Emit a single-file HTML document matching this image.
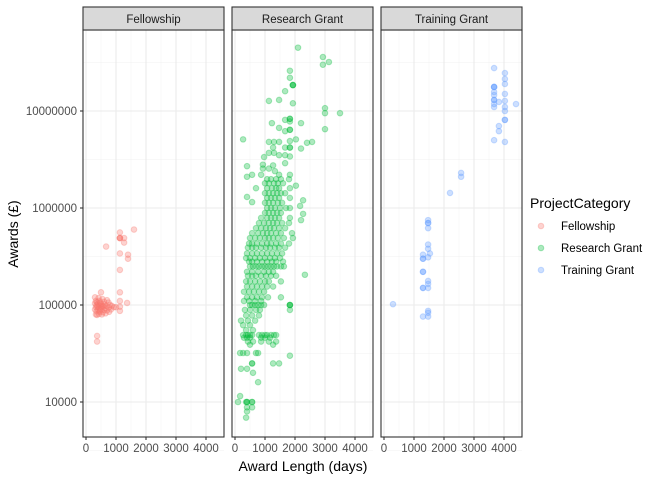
<!DOCTYPE html>
<html><head><meta charset="utf-8"><style>
body{margin:0;background:#fff;font-family:"Liberation Sans",sans-serif}
</style></head><body>
<svg id="chart" width="672" height="480" xmlns="http://www.w3.org/2000/svg" font-family="Liberation Sans, sans-serif"></svg>
<script>
const categories = ["Fellowship","Research Grant","Training Grant"];
const colors = ["#F8766D","#00BA38","#619CFF"];
const xTicks = [0,1000,2000,3000,4000];
const yTicks = [10000,100000,1000000,10000000];
const yTickLabels = ["10000","100000","1000000","10000000"];

const fellowshipPoints = [[1130,5.6e5],[1130,4.9e5],[1130,4.9e5],[1130,4.9e5],[1270,4.9e5],[1270,4.4e5],[1600,6e5],[670,4e5],[1130,3.4e5],[1400,3.3e5],[1400,3e5],[1130,2.3e5],[500,1.35e5],[1130,1.35e5],[1130,1.1e5],[1370,1.05e5],[1130,8.7e4],[370,4.8e4],[370,4.2e4],[370,7.9e4],[770,8.5e4],[930,9.5e4],
[300,1.2e5],[420,1.18e5],[550,1.15e5],[700,1.12e5],[330,1.1e5],[450,1.1e5],[600,1.08e5],[750,1.06e5],[300,1.04e5],[400,1.03e5],[500,1.02e5],[620,1.01e5],[800,1e5],[350,1e5],[450,9.9e4],[550,9.8e4],[680,9.8e4],[330,9.5e4],[430,9.4e4],[520,9.5e4],[640,9.3e4],[760,9.4e4],[300,9e4],[400,9e4],[500,9.1e4],[600,8.9e4],[700,8.8e4],[350,8.6e4],[450,8.5e4],[560,8.4e4],[330,8e4],[430,8.1e4],[530,8e4],[650,8.2e4],[860,9.8e4],[370,1.07e5],[480,1.06e5],[580,9.7e4],[380,9.6e4],[470,8.8e4],[1000,9.5e4],[1130,9.6e4],[830,9e4]];

const researchPoints = [[2100,4.5e7],[2930,3.6e7],[3130,3.2e7],[2930,3.0e7],[1830,2.6e7],[1830,2.2e7],[1930,1.85e7],[1930,1.85e7],[1930,1.85e7],[1670,1.6e7],[1130,1.27e7],[1470,1.3e7],[1930,1.2e7],[3000,1.07e7],[3000,9.5e6],[3500,9.5e6],[1230,7.5e6],[1670,8.1e6],[1830,8.3e6],[1830,8.3e6],[1830,7.8e6],[2200,7.5e6],[1470,6.7e6],[1830,6.4e6],[1830,6.4e6],[1670,6.2e6],[3000,6.5e6],[270,5.1e6],[2030,5.1e6],[1830,4.9e6],[2570,4.8e6],[2400,4.7e6],[1130,4.8e6],[1300,4.8e6],[1470,4.8e6],[1670,4.2e6],[1830,4.2e6],[1830,4.2e6],[2200,4.1e6],[1270,4.2e6],[1130,3.7e6],[970,3.35e6],[1300,3.7e6],[1470,3.5e6],[1670,3.5e6],[1830,3.4e6],[1670,2.9e6],[400,2.7e6],[930,2.8e6],[1270,2.75e6],[930,2.55e6],[1130,2.55e6],[400,2.1e6],[570,2.2e6],[870,2.2e6],[1330,2.4e6],[1470,2.2e6],[1830,2.2e6],[2030,1.7e6],[700,1.6e6],[400,1.3e6],[570,1.15e6],[2270,1.2e6],[2170,1.05e6],[2270,8.7e5],[2200,7.5e5],
[1070,1.98e6],[1200,1.98e6],[1370,1.98e6],[1530,1.98e6],[1800,1.98e6],
[1000,1.8e6],[1130,1.8e6],[1300,1.8e6],[1430,1.8e6],[1600,1.8e6],
[1070,1.6e6],[1230,1.6e6],[1370,1.6e6],[1470,1.6e6],[1830,1.6e6],
[1000,1.42e6],[1130,1.42e6],[1270,1.42e6],[1400,1.42e6],[1530,1.42e6],[1670,1.42e6],
[1070,1.27e6],[1200,1.27e6],[1330,1.27e6],[1470,1.27e6],[1830,1.27e6],
[1000,1.13e6],[1130,1.13e6],[1270,1.13e6],[1430,1.13e6],[1570,1.13e6],
[1070,1e6],[1200,1e6],[1330,1e6],[1500,1e6],[1830,1e6],[1700,1e6],
[1000,8.9e5],[1130,8.9e5],[1270,8.9e5],[1400,8.9e5],[1530,8.9e5],
[870,7.9e5],[1070,7.9e5],[1200,7.9e5],[1330,7.9e5],[1470,7.9e5],[1830,7.9e5],
[800,7e5],[970,7e5],[1130,7e5],[1270,7e5],[1400,7e5],[1570,7e5],[1800,7e5],
[700,6.2e5],[870,6.2e5],[1030,6.2e5],[1170,6.2e5],[1300,6.2e5],[1470,6.2e5],[1670,6.2e5],
[570,5.5e5],[770,5.5e5],[930,5.5e5],[1070,5.5e5],[1200,5.5e5],[1370,5.5e5],[1530,5.5e5],[1900,5.5e5],
[500,4.9e5],[670,4.9e5],[830,4.9e5],[1000,4.9e5],[1130,4.9e5],[1270,4.9e5],[1430,4.9e5],[1630,4.9e5],[1930,4.9e5],
[470,4.3e5],[570,4.3e5],[730,4.3e5],[900,4.3e5],[1070,4.3e5],[1200,4.3e5],[1370,4.3e5],[1530,4.3e5],[1800,4.3e5],
[430,3.9e5],[570,3.9e5],[700,3.9e5],[870,3.9e5],[1030,3.9e5],[1170,3.9e5],[1330,3.9e5],[1470,3.9e5],[1670,3.9e5],
[400,3.4e5],[570,3.4e5],[730,3.4e5],[900,3.4e5],[1070,3.4e5],[1230,3.4e5],[1400,3.4e5],[1570,3.4e5],
[370,3.05e5],[500,3.05e5],[670,3.05e5],[830,3.05e5],[1000,3.05e5],[1170,3.05e5],[1330,3.05e5],[1500,3.05e5],
[470,2.8e5],[570,2.8e5],[730,2.8e5],[900,2.8e5],[1070,2.8e5],[1230,2.8e5],[1370,2.8e5],[1600,2.8e5],
[500,2.5e5],[600,2.5e5],[700,2.5e5],[800,2.5e5],[900,2.5e5],[1000,2.5e5],[1100,2.5e5],[1200,2.5e5],[1300,2.5e5],[1400,2.5e5],[1530,2.5e5],[1630,2.5e5],[2330,2.05e5],
[400,2.2e5],[570,2.2e5],[770,2.2e5],[970,2.2e5],[1130,2.2e5],[1270,2.2e5],
[430,2e5],[570,2e5],[700,2e5],[870,2e5],[1030,2e5],[1200,2e5],[1370,2e5],
[370,1.75e5],[500,1.75e5],[670,1.75e5],[830,1.75e5],[1000,1.75e5],[1130,1.75e5],[1530,1.75e5],
[400,1.55e5],[570,1.55e5],[730,1.55e5],[900,1.55e5],[1070,1.55e5],[1270,1.55e5],
[300,1.37e5],[470,1.37e5],[630,1.37e5],[800,1.37e5],[970,1.37e5],
[400,1.2e5],[570,1.2e5],[730,1.2e5],[900,1.2e5],[1100,1.2e5],[1530,1.2e5],
[300,1.1e5],[470,1.1e5],[670,1.1e5],[870,1.1e5],
[500,1e5],[570,1e5],[670,1e5],[770,1e5],[870,1e5],[970,1e5],[1830,1e5],[1830,1e5],[1830,1e5],
[330,8.9e4],[500,8.9e4],[700,8.9e4],[830,8.9e4],[1830,8.9e4],
[370,7.8e4],[570,7.8e4],[800,7.8e4],[200,6.9e4],[430,6.9e4],[670,6.9e4],[270,6.2e4],[500,6.2e4],[370,5.5e4],[600,5.5e4],
[270,4.9e4],[370,4.9e4],[430,4.9e4],[500,4.9e4],[570,4.9e4],[800,4.9e4],[900,4.9e4],[1000,4.9e4],[1070,4.9e4],[1200,4.9e4],[1300,4.9e4],[1370,4.9e4],
[300,4.6e4],[400,4.6e4],[500,4.6e4],[870,4.6e4],[1000,4.6e4],[1170,4.6e4],
[430,4.2e4],[600,4.2e4],[870,4.2e4],[1130,4.2e4],[1370,4.2e4],[500,3.9e4],[1270,3.9e4],
[170,3.2e4],[270,3.2e4],[400,3.2e4],[700,3.2e4],[770,3.2e4],[1830,3.0e4],
[570,2.5e4],[570,2.5e4],[1270,2.5e4],[1470,2.5e4],[200,2.2e4],[400,2.2e4],[600,2.0e4],[770,1.6e4],[170,1.15e4],
[100,1e4],[370,1e4],[400,1e4],[400,1e4],[570,1e4],[570,1e4],[400,8.8e3],[570,8.8e3],[400,8e3],[370,6.9e3]];

const trainingPoints = [[3670,2.77e7],[4030,2.46e7],[4030,2.14e7],[4030,1.9e7],[3670,1.77e7],[3670,1.77e7],[3670,1.77e7],[3670,1.57e7],[3670,1.46e7],[3670,1.3e7],[3670,1.3e7],[3670,1.18e7],[3670,1.1e7],[3830,1.24e7],[4030,1.5e7],[4030,1.27e7],[4030,1.1e7],[4030,1e7],[4030,8.1e6],[4030,8.1e6],[4400,1.18e7],[3830,7.0e6],[3830,6.2e6],[3670,5e6],[4030,4.8e6],[2570,2.3e6],[2570,2.1e6],[2200,1.43e6],[1470,7.5e5],[1470,7e5],[1470,7e5],[1470,6.2e5],[1470,4.2e5],[1470,3.8e5],[1530,3.4e5],[1300,3.3e5],[1300,3e5],[1300,3e5],[1470,3.1e5],[1300,2.2e5],[1300,2.2e5],[1470,1.77e5],[1470,1.65e5],[1300,1.5e5],[1300,1.5e5],[1470,1.5e5],[300,1.02e5],[1470,8.7e4],[1470,8.3e4],[1300,7.6e4],[1470,7.6e4]];

const seriesPoints = [fellowshipPoints, researchPoints, trainingPoints];

const NS = "http://www.w3.org/2000/svg";
const svg = document.getElementById("chart");
function mk(tag, attrs, parent){const e=document.createElementNS(NS,tag);for(const k in attrs)e.setAttribute(k,attrs[k]);(parent||svg).appendChild(e);return e;}
const panelLeft=[83,232,381], panelW=141, panelTop=30, panelBottom=437;
const xMin=-100, xMax=4600;
function xScale(i,d){return panelLeft[i]+(d-xMin)/(xMax-xMin)*panelW;}
function yScale(v){return 111-(Math.log10(v)-7)*97;}

categories.forEach((cat,i)=>{
  const g=mk("g",{});
  
  
  mk("rect",{x:panelLeft[i],y:panelTop,width:panelW,height:panelBottom-panelTop,fill:"#fff"},g);
  for(let d=500; d<=4500; d+=1000){const x=xScale(i,d);mk("line",{x1:x,x2:x,y1:panelTop,y2:panelBottom,stroke:"#F2F2F2","stroke-width":0.55},g);}
  for(let e=3.5; e<=7.5; e+=1){const y=yScale(Math.pow(10,e));mk("line",{x1:panelLeft[i],x2:panelLeft[i]+panelW,y1:y,y2:y,stroke:"#F2F2F2","stroke-width":0.55},g);}
  xTicks.forEach(d=>{const x=xScale(i,d);mk("line",{x1:x,x2:x,y1:panelTop,y2:panelBottom,stroke:"#EBEBEB","stroke-width":1.1},g);});
  yTicks.forEach(v=>{const y=yScale(v);mk("line",{x1:panelLeft[i],x2:panelLeft[i]+panelW,y1:y,y2:y,stroke:"#EBEBEB","stroke-width":1.1},g);});
  seriesPoints[i].forEach(p=>{
    const c=mk("circle",{cx:xScale(i,p[0]),cy:yScale(p[1]),r:2.8,fill:colors[i],"fill-opacity":0.32,stroke:colors[i],"stroke-opacity":0.32,"stroke-width":1},g);
    
    
  });
  mk("rect",{x:panelLeft[i],y:panelTop,width:panelW,height:panelBottom-panelTop,fill:"none",stroke:"#333","stroke-width":1.1},g);
  const strip=mk("rect",{x:panelLeft[i],y:7,width:panelW,height:23,fill:"#D9D9D9",stroke:"#333","stroke-width":1.1},g);
  
  
  const st=mk("text",{x:panelLeft[i]+panelW/2,y:23,"text-anchor":"middle","font-size":11.5,fill:"#1A1A1A"},g);
  st.textContent=cat;
  
  
  xTicks.forEach(d=>{const x=xScale(i,d);mk("line",{x1:x,x2:x,y1:panelBottom,y2:panelBottom+3,stroke:"#333","stroke-width":1.1},g);
    const t=mk("text",{x:x,y:452,"text-anchor":"middle","font-size":11.5,fill:"#4D4D4D"},g);t.textContent=d;
    
    });
});
yTicks.forEach((v,k)=>{const y=yScale(v);mk("line",{x1:80,x2:83,y1:y,y2:y,stroke:"#333","stroke-width":1.1});
  const t=mk("text",{x:77,y:y+4,"text-anchor":"end","font-size":11.5,fill:"#4D4D4D"});t.textContent=yTickLabels[k];
  
  });
const xt=mk("text",{x:303,y:471,"text-anchor":"middle","font-size":14,fill:"#000"});xt.textContent="Award Length (days)";


const yt=mk("text",{x:0,y:0,"text-anchor":"middle","font-size":14,fill:"#000",transform:"translate(18,234) rotate(-90)"});yt.textContent="Awards (£)";


const lt=mk("text",{x:530,y:208,"font-size":14,fill:"#000"});lt.textContent="ProjectCategory";


categories.forEach((cat,i)=>{const y=226+i*22;
  const c=mk("circle",{cx:541,cy:y,r:2.8,fill:colors[i],"fill-opacity":0.32,stroke:colors[i],"stroke-opacity":0.32,"stroke-width":1});
  
  
  const t=mk("text",{x:561,y:y+4,"font-size":11.5,fill:"#000"});t.textContent=cat;
  
  });
</script>
</body></html>
